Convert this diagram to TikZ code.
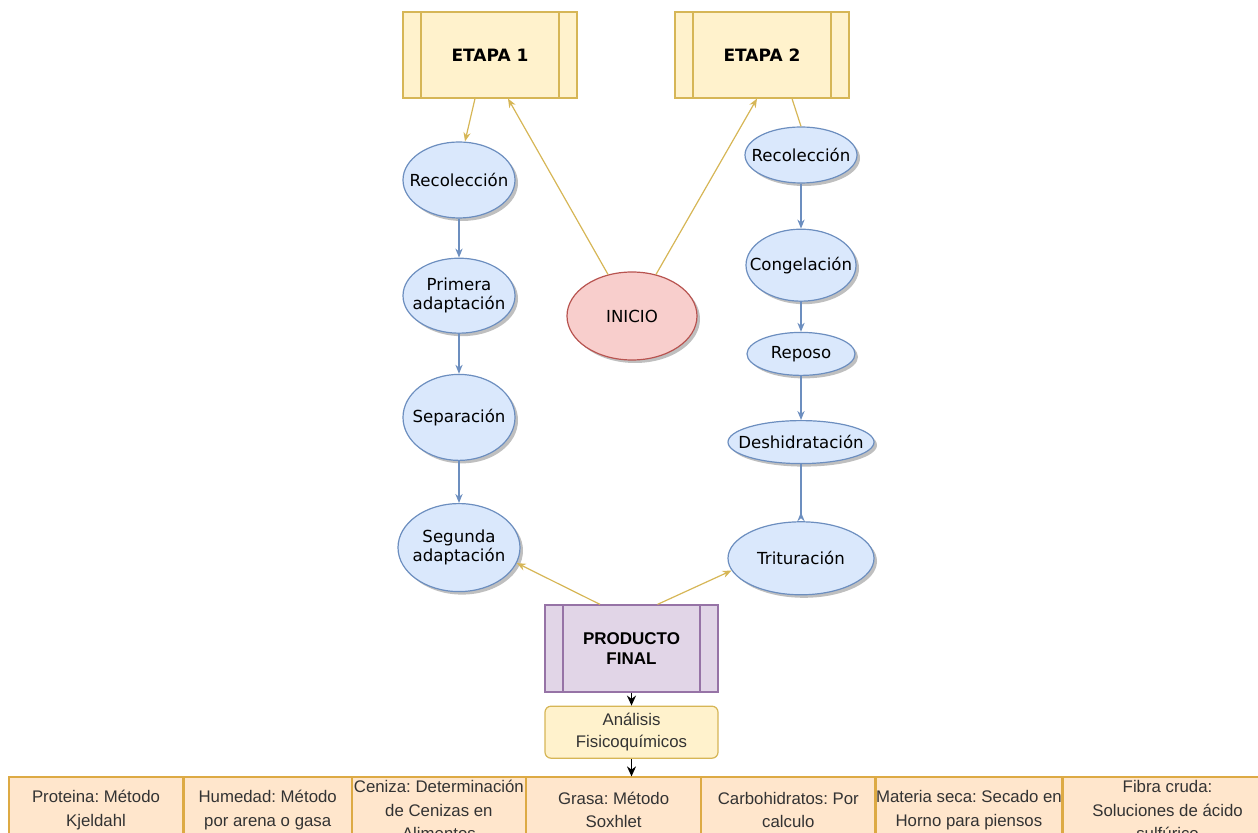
\documentclass[tikz,border=0pt]{standalone}
\usepackage{fontspec}
\setmainfont{Liberation Sans}
\newfontfamily\verdana{DejaVu Sans}
\usetikzlibrary{arrows.meta,positioning,shapes.geometric,shadows}
\frenchspacing

\definecolor{yfill}{HTML}{FFF2CC}
\definecolor{ydraw}{HTML}{D6B656}
\definecolor{bfill}{HTML}{DAE8FC}
\definecolor{bdraw}{HTML}{6C8EBF}
\definecolor{rfill}{HTML}{F8CECC}
\definecolor{rdraw}{HTML}{B85450}
\definecolor{pfill}{HTML}{E1D5E7}
\definecolor{pdraw}{HTML}{9673A6}
\definecolor{ofill}{HTML}{FFE6CC}
\definecolor{odraw}{HTML}{DDAA44}
\definecolor{texto}{HTML}{333333}

\begin{document}
\begin{tikzpicture}[x=0.5pt, y=-0.5pt,
    paso/.style={ellipse, draw=bdraw, fill=bfill, line width=0.6pt, inner xsep=-10pt, align=center,
      font=\verdana\fontsize{8.3}{9.6}\selectfont,
      drop shadow={shadow xshift=1.5pt, shadow yshift=-1.5pt, fill=black!50, opacity=0.5}},
    proceso/.style={rectangle, draw=#1, line width=0.6pt, minimum width=87pt, minimum height=43pt, align=center,
      path picture={\draw[#1, line width=0.6pt]
        ([xshift=9pt]path picture bounding box.north west) -- ([xshift=9pt]path picture bounding box.south west)
        ([xshift=-9pt]path picture bounding box.north east) -- ([xshift=-9pt]path picture bounding box.south east);}},
    metodo/.style={rectangle, draw=odraw, fill=ofill, line width=0.6pt, minimum height=33pt, inner xsep=0pt, inner ysep=0pt,
      align=center, text=texto, font=\fontsize{8.4}{11.8}\selectfont},
    flechaam/.style={color=ydraw, line width=0.6pt, -{Stealth[length=4.5pt, width=3.6pt]}},
    flechaaz/.style={color=bdraw, line width=0.7pt, -{Stealth[length=4.5pt, width=3.6pt]}},
    flechane/.style={color=black, line width=0.7pt, -{Stealth[length=5pt, width=4.5pt]}}]
    \useasboundingbox (0,0) rectangle (1258,833);
    \clip (0,0) rectangle (1258,833);

    % etapas
    \node[proceso=ydraw, fill=yfill, font=\verdana\bfseries\fontsize{8.5}{10}\selectfont] (etapa1) at (490,55) {ETAPA 1};
    \node[proceso=ydraw, fill=yfill, font=\verdana\bfseries\fontsize{8.5}{10}\selectfont] (etapa2) at (762,55) {ETAPA 2};
    \node[paso, draw=rdraw, fill=rfill, minimum width=65pt, minimum height=44pt] (inicio) at (632,316) {INICIO};

    % etapa 1
    \node[paso, minimum width=56pt, minimum height=38pt] (rec1) at (459,180) {Recolección};
    \node[paso, below=19.5pt of rec1, minimum width=56pt, minimum height=37.5pt] (prim) {Primera\\adaptación};
    \node[paso, below=20pt of prim, minimum width=56pt, minimum height=43pt] (sep) {Separación};
    \node[paso, below=21pt of sep, minimum width=61pt, minimum height=44pt] (seg) {Segunda\\adaptación};

    % etapa 2
    \node[paso, minimum width=56pt, minimum height=28pt] (rec2) at (801,155) {Recolección};
    \node[paso, below=22.5pt of rec2, minimum width=55pt, minimum height=36pt] (cong) {Congelación};
    \node[paso, below=15pt of cong, minimum width=54pt, minimum height=21.5pt] (rep) {Reposo};
    \node[paso, below=22pt of rep, minimum width=73pt, minimum height=21.5pt] (desh) {Deshidratación};
    \node[paso, below=28.5pt of desh, minimum width=73pt, minimum height=36.5pt] (trit) {Trituración};

    % producto y analisis
    \node[proceso=pdraw, fill=pfill, minimum width=86.5pt, minimum height=43.5pt, font=\bfseries\fontsize{8.5}{10}\selectfont] (prod) at (631.5,648.5) {PRODUCTO\\FINAL};
    \node[rectangle, rounded corners=3pt, draw=ydraw, fill=yfill, line width=0.6pt, below=6.5pt of prod, minimum width=86.5pt, minimum height=26pt, align=center, text=texto, font=\fontsize{8.4}{11}\selectfont] (anal) {Análisis\\Fisicoquímicos};

    % metodos
    \node[metodo, minimum width=87pt] (prot) at (96,810) {Proteina: Método\\Kjeldahl};
    \node[metodo, right=0pt of prot, minimum width=83.5pt] (hum) {Humedad: Método\\por arena o gasa};
    \node[metodo, right=0pt of hum, minimum width=86.5pt] (cen) {Ceniza: Determinación\\de Cenizas en\\Alimentos};
    \node[metodo, right=0pt of cen, minimum width=87pt] (gras) {Grasa: Método\\Soxhlet};
    \node[metodo, right=0pt of gras, minimum width=86.5pt] (carb) {Carbohidratos: Por\\calculo};
    \node[metodo, right=0pt of carb, minimum width=88.5pt] (mat) {Materia seca: Secado en\\Horno para piensos};
    \node[metodo, right=0pt of mat, minimum width=104.5pt] (fib) {Fibra cruda:\\Soluciones de ácido\\sulfúrico};

    \path[flechaam]
      ([xshift=-7.5pt]etapa1.south) edge ([xshift=3pt]rec1.north)
      (inicio.120) edge ([xshift=9pt]etapa1.south)
      (inicio.60) edge ([xshift=-2.5pt]etapa2.south)
      ([xshift=-15.75pt]prod.north) edge (seg.-15)
      ([xshift=13pt]prod.north) edge (trit.190);
    \draw[draw=ydraw, line width=0.6pt] ([xshift=15pt]etapa2.south) -- (rec2.north);
    \path[flechaaz]
      (rec1) edge (prim)
      (prim) edge (sep)
      (sep) edge (seg)
      (rec2) edge (cong)
      (cong) edge (rep)
      (rep) edge (desh);
    \draw[draw=bdraw, line width=0.7pt, -{Stealth[length=4.5pt, width=3.6pt, reversed]}] (desh) -- (trit);
    \path[flechane]
      (prod) edge (anal)
      (anal.south) edge (anal.south |- gras.north);
  \end{tikzpicture}
\end{document}
